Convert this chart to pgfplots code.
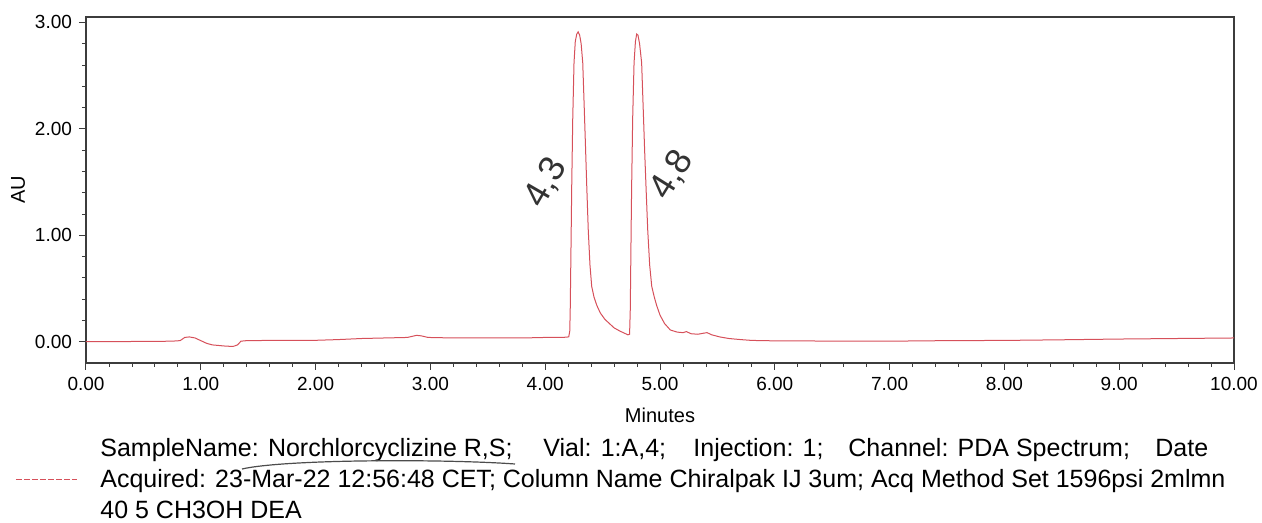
\documentclass[border=0pt]{standalone}
\usepackage{pgfplots}
\pgfplotsset{compat=1.18}
\usepackage{pgfplotstable}
\usepackage{fontspec}
\setmainfont{Liberation Sans}
\newfontfamily\legfont{Liberation Sans}
\definecolor{trace}{RGB}{214,80,90}
\definecolor{frame}{RGB}{60,60,60}

\pgfplotstableread{
x y
0.00 0.000
0.20 0.000
0.40 0.002
0.60 0.003
0.75 0.005
0.82 0.010
0.86 0.040
0.90 0.045
0.95 0.035
1.00 0.010
1.05 -0.015
1.10 -0.030
1.20 -0.040
1.28 -0.045
1.32 -0.030
1.35 0.005
1.40 0.010
1.60 0.012
1.80 0.012
2.00 0.013
2.20 0.020
2.40 0.030
2.60 0.035
2.80 0.040
2.88 0.060
2.92 0.055
2.98 0.040
3.20 0.035
3.50 0.035
3.80 0.035
4.00 0.040
4.15 0.040
4.205 0.045
4.214 0.10
4.218 0.30
4.222 0.65
4.226 1.00
4.231 1.46
4.240 2.10
4.251 2.62
4.262 2.82
4.275 2.89
4.287 2.91
4.300 2.88
4.313 2.80
4.327 2.62
4.340 2.20
4.352 1.80
4.362 1.46
4.375 1.05
4.390 0.72
4.405 0.52
4.425 0.42
4.450 0.34
4.48 0.27
4.52 0.21
4.56 0.17
4.60 0.13
4.65 0.10
4.69 0.08
4.72 0.065
4.735 0.07
4.741 0.30
4.745 0.70
4.749 1.10
4.753 1.46
4.762 2.10
4.774 2.62
4.786 2.82
4.797 2.89
4.808 2.88
4.822 2.80
4.840 2.62
4.855 2.15
4.866 1.80
4.878 1.46
4.893 1.05
4.910 0.72
4.928 0.52
4.950 0.42
4.971 0.34
5.00 0.25
5.04 0.17
5.09 0.11
5.15 0.09
5.20 0.085
5.23 0.095
5.27 0.075
5.33 0.07
5.38 0.08
5.41 0.085
5.45 0.065
5.52 0.045
5.60 0.030
5.70 0.020
5.80 0.012
6.00 0.008
6.50 0.006
7.00 0.005
7.50 0.010
8.00 0.012
8.50 0.018
9.00 0.025
9.50 0.030
10.00 0.035
}\chrom

\begin{document}
\begin{tikzpicture}
\begin{axis}[
  at={(0,0)}, anchor=south west,
  scale only axis, width=574pt, height=173pt,
  xmin=0, xmax=10, ymin=-0.2, ymax=3.05,
  xtick={0,1,...,10}, minor x tick num=4,
  ytick={0,1,2,3}, minor y tick num=4,
  tick align=outside, tick pos=left,
  major tick length=3.5pt, minor tick length=2pt,
  axis line style={frame, line width=0.6pt},
  every tick/.style={frame, line width=0.5pt},
  every minor tick/.style={frame, line width=0.4pt},
  tick label style={font=\fontsize{9.5}{11}\selectfont, text=black},
  /pgf/number format/assume math mode=true,
  xticklabel style={/pgf/number format/.cd, fixed, fixed zerofill, precision=2},
  yticklabel style={/pgf/number format/.cd, fixed, fixed zerofill, precision=2},
  xlabel={Minutes}, ylabel={AU},
  label style={font=\fontsize{9}{11}\selectfont},
  every axis x label/.style={at={(axis description cs:0.5,0)}, anchor=north, yshift=-19pt},
  every axis y label/.style={at={(axis description cs:-0.0592,0.5)}, rotate=90, anchor=center},
  clip=false,
]
\addplot[trace, line width=0.5pt] table[x=x, y=y] {\chrom};
\end{axis}
% handwritten retention time notes
\node[rotate=60, font=\fontsize{18}{20}\selectfont, text=black!80, inner sep=0pt] at (230pt,90pt) {4,3};
\node[rotate=58, font=\fontsize{18}{20}\selectfont, text=black!80, inner sep=0pt] at (293pt,94pt) {4,8};
% legend
\draw[trace, line width=0.5pt, dash pattern=on 3pt off 1pt] (-35pt,-58.5pt) -- (-4.5pt,-58.5pt);
\begin{scope}[every node/.style={anchor=base west, inner sep=0pt, font=\legfont\fontsize{12.5}{15}\selectfont}]
\node at (7pt,-47pt) {SampleName: Norchlorcyclizine R,S;};
\node at (228.5pt,-47pt) {Vial: 1:A,4;};
\node at (303.5pt,-47pt) {Injection: 1;};
\node at (381pt,-47pt) {Channel: PDA Spectrum;};
\node at (534.5pt,-47pt) {Date};
\node at (7pt,-62.5pt) {Acquired: 23-Mar-22 12:56:48 CET; Column Name Chiralpak IJ 3um; Acq Method Set 1596psi 2mlmn};
\node at (7pt,-78pt) {40 5 CH3OH DEA};
\end{scope}
\draw[black!70, line width=0.6pt] (78pt,-53pt) .. controls (100pt,-48pt) and (180pt,-48pt) .. (214.5pt,-50.5pt);
\pgfresetboundingbox
\path (-43pt,-80pt) rectangle (588pt,181.5pt);
\end{tikzpicture}
\end{document}
